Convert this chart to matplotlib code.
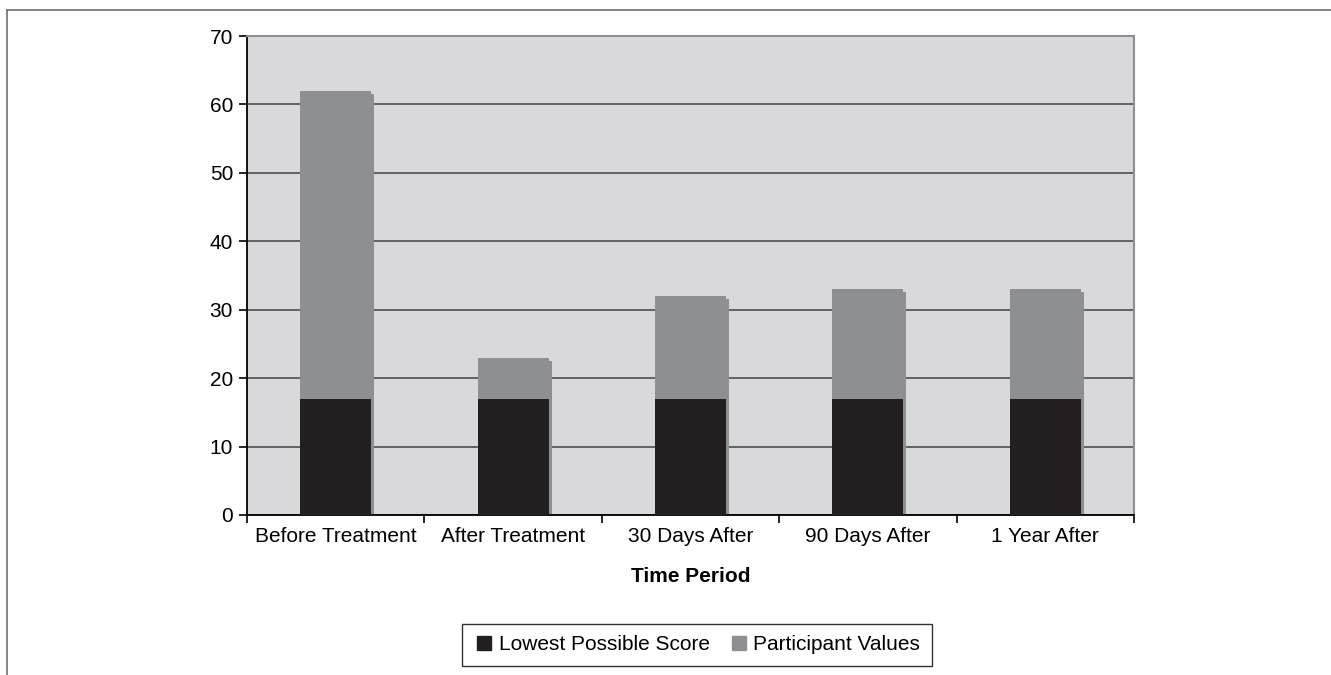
import matplotlib.pyplot as plt
from matplotlib.lines import Line2D

# data
periods = ["Before Treatment", "After Treatment", "30 Days After", "90 Days After", "1 Year After"]
lowest = [17, 17, 17, 17, 17]
participant = [62, 23, 32, 33, 33]

plt.rcParams['font.family'] = ['Liberation Sans', 'DejaVu Sans']

fig = plt.figure(figsize=(13.31, 6.75), dpi=100)
ax = fig.add_axes([247 / 1331, 160 / 675, 887 / 1331, 479 / 675])

dark = '#231f20'
grey = '#8e8f92'
x = list(range(len(periods)))
upper = [p - l for p, l in zip(participant, lowest)]

# shadow behind each bar
shadow_x = [i + 0.017 for i in x]
ax.bar(shadow_x, [p - 0.45 for p in participant], width=0.4, color=grey, zorder=2)
ax.bar(x, lowest, width=0.4, color=dark, zorder=3)
ax.bar(x, upper, bottom=lowest, width=0.4, color=grey, zorder=3)

ax.set_xlim(-0.5, 4.5)
ax.set_ylim(0, 70)
ax.set_yticks(range(0, 71, 10))
ax.set_facecolor('#d9d9db')
ax.yaxis.grid(True, color='#58595b', linewidth=1.3)
ax.set_axisbelow(True)

ax.set_xticks(x)
ax.set_xticklabels(periods, fontsize=15)
ax.set_xticks([i + 0.5 for i in range(-1, 5)], minor=True)
ax.tick_params(axis='x', which='major', length=0, pad=9)
ax.tick_params(axis='x', which='minor', length=6, width=1.2, color='black')
ax.tick_params(axis='y', labelsize=15, length=6, width=1.2, pad=4)

for side in ['left', 'bottom']:
    ax.spines[side].set_color('black')
    ax.spines[side].set_linewidth(1.3)
for side in ['top', 'right']:
    ax.spines[side].set_color('#8e8f92')
    ax.spines[side].set_linewidth(1.5)

ax.set_xlabel("Time Period", fontsize=15, fontweight='bold', labelpad=15)

handles = [Line2D([], [], marker='s', linestyle='none', color=dark, markersize=10),
           Line2D([], [], marker='s', linestyle='none', color=grey, markersize=10)]
leg = fig.legend(handles, ["Lowest Possible Score", "Participant Values"],
                 loc='center', bbox_to_anchor=(697 / 1331, 30 / 675), ncol=2,
                 fontsize=15, frameon=True, fancybox=False, handletextpad=0.2,
                 columnspacing=0.9, borderpad=0.55, handlelength=1.0)
leg.get_frame().set_edgecolor('black')
leg.get_frame().set_linewidth(1.0)

# outer frame lines (top and left)
fig.add_artist(Line2D([7 / 1331, 1], [1 - 10 / 675, 1 - 10 / 675], color='#6d6e70', linewidth=1.2))
fig.add_artist(Line2D([7 / 1331, 7 / 1331], [0, 1 - 10 / 675], color='#6d6e70', linewidth=1.2))

fig.savefig("out.png", dpi=100)
